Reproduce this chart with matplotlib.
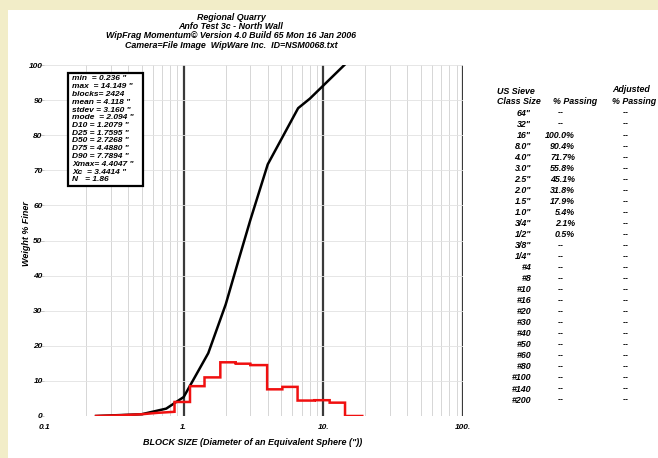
import numpy as np
import matplotlib.pyplot as plt
from matplotlib.patches import Rectangle

plt.rcParams['font.family'] = ['Liberation Sans', 'DejaVu Sans']

W, H = 658, 458

# cumulative curve (% finer)
curve_size = [0.236, 0.5, 0.75, 1.0, 1.5, 2.0, 2.5, 3.0, 4.0, 6.6, 8.0, 14.149]
curve_pct = [0.0, 0.5, 2.1, 5.4, 17.9, 31.8, 45.1, 55.8, 71.7, 87.7, 90.4, 100.0]

# fine tail of the distribution
tail_size = [0.236, 0.35, 0.5, 0.65, 0.86]
tail_pct = [0.0, 0.2, 0.5, 0.9, 1.2]

# histogram (% per class)
hist_edges = [0.86, 1.11, 1.41, 1.83, 2.36, 3.0, 3.96, 5.09, 6.54, 8.68, 11.1, 14.3, 19.0]
hist_pct = [4.0, 8.5, 11.0, 15.3, 14.9, 14.5, 7.6, 8.3, 4.4, 4.5, 3.8, 0.0]

stats = ['min  = 0.236 "', 'max  = 14.149 "', 'blocks= 2424', 'mean = 4.118 "',
         'stdev = 3.160 "', 'mode  = 2.094 "', 'D10 = 1.2079 "', 'D25 = 1.7595 "',
         'D50 = 2.7268 "', 'D75 = 4.4880 "', 'D90 = 7.7894 "', 'Xmax= 4.4047 "',
         'Xc  = 3.4414 "', 'N   = 1.86']

sieve_sizes = ['64"', '32"', '16"', '8.0"', '4.0"', '3.0"', '2.5"', '2.0"', '1.5"',
               '1.0"', '3/4"', '1/2"', '3/8"', '1/4"', '#4', '#8', '#10', '#16', '#20',
               '#30', '#40', '#50', '#60', '#80', '#100', '#140', '#200']
passing = ['--', '--', '100.0%', '90.4%', '71.7%', '55.8%', '45.1%', '31.8%', '17.9%',
           '5.4%', '2.1%', '0.5%'] + ['--'] * 15
adjusted = ['--'] * 27

title_lines = ['Regional Quarry', 'Anfo Test 3c - North Wall',
               'WipFrag Momentum\u00a9 Version 4.0 Build 65 Mon 16 Jan 2006',
               'Camera=File Image  WipWare Inc.  ID=NSM0068.txt']

fig = plt.figure(figsize=(W / 100, H / 100), dpi=100, facecolor='#f2edc8')
fig.patches.append(Rectangle((8 / W, 0), 1, 1 - 10 / H, transform=fig.transFigure,
                             facecolor='white', edgecolor='none', zorder=-10))


def px(x, y):
    return x / W, 1 - y / H


ax = fig.add_axes([44 / W, 1 - 416 / H, 419 / W, 351 / H])
ax.set_facecolor('none')
ax.set_xscale('log')
ax.set_xlim(0.1, 100)
ax.set_ylim(0, 100)
for s in ax.spines.values():
    s.set_visible(False)

ax.set_xticks([0.1, 1, 10, 100])
ax.set_xticklabels(['0.1', '1.', '10.', '100.'])
ax.set_yticks(range(0, 101, 10))
ax.tick_params(axis='x', which='both', length=0, pad=6)
ax.tick_params(axis='y', length=3, color='#bbbbbb', width=0.6, pad=-2)
for lab in ax.get_xticklabels() + ax.get_yticklabels():
    lab.set_fontsize(6)
    lab.set_fontweight('bold')
    lab.set_fontstyle('italic')

ax.grid(True, which='minor', axis='x', color='#d0d0d0', lw=0.6)
ax.grid(True, which='major', axis='y', color='#e2e2e2', lw=0.6)
for xv in [1, 10, 100]:
    ax.axvline(xv, color='#3a3a3a', lw=1.6, zorder=1)

ax.plot(curve_size, curve_pct, color='black', lw=1.8, zorder=3)

xs = np.concatenate([tail_size, np.repeat(hist_edges, 2)[1:-1]])
ys = np.concatenate([tail_pct, np.repeat(hist_pct, 2)])
ax.plot(xs, ys, color='#f01010', lw=1.8, zorder=4, solid_joinstyle='miter')

ax.set_xlabel('BLOCK SIZE (Diameter of an Equivalent Sphere (")) ', fontsize=6.5,
              fontweight='bold', fontstyle='italic', labelpad=5)
ax.set_ylabel('Weight % Finer', fontsize=6.5, fontweight='bold', fontstyle='italic')
ax.yaxis.set_label_coords(-0.031, 0.52)

# title block
for i, t in enumerate(title_lines):
    fig.text(*px(231, 17 + i * 9.5), t, ha='center', va='center', fontsize=6.4,
             fontweight='bold', fontstyle='italic')

# stats box
fig.patches.append(Rectangle(px(68, 186), 75 / W, 113 / H, transform=fig.transFigure,
                             facecolor='white', edgecolor='black', lw=1.6, zorder=5))
for i, s in enumerate(stats):
    fig.text(*px(72, 79 + i * 7.75), s, ha='left', va='center', fontsize=6,
             fontweight='bold', fontstyle='italic', zorder=6)

# sieve table
kw = dict(fontsize=6.4, fontweight='bold', fontstyle='italic', va='center')
fig.text(*px(497, 91), 'US Sieve', ha='left', **kw)
fig.text(*px(497, 101), 'Class Size', ha='left', **kw)
fig.text(*px(553, 101), '% Passing', ha='left', **kw)
fig.text(*px(612, 90), 'Adjusted', ha='left', **kw)
fig.text(*px(612, 101), '% Passing', ha='left', **kw)
for i in range(len(sieve_sizes)):
    y = 113 + i * 11.04
    fig.text(*px(531, y), sieve_sizes[i], ha='right', **kw)
    if passing[i] == '--':
        fig.text(*px(561, y), '--', ha='center', **kw)
    else:
        fig.text(*px(575, y), passing[i], ha='right', **kw)
    fig.text(*px(626, y), adjusted[i], ha='center', **kw)

fig.savefig('out.png', dpi=100, facecolor=fig.get_facecolor())
